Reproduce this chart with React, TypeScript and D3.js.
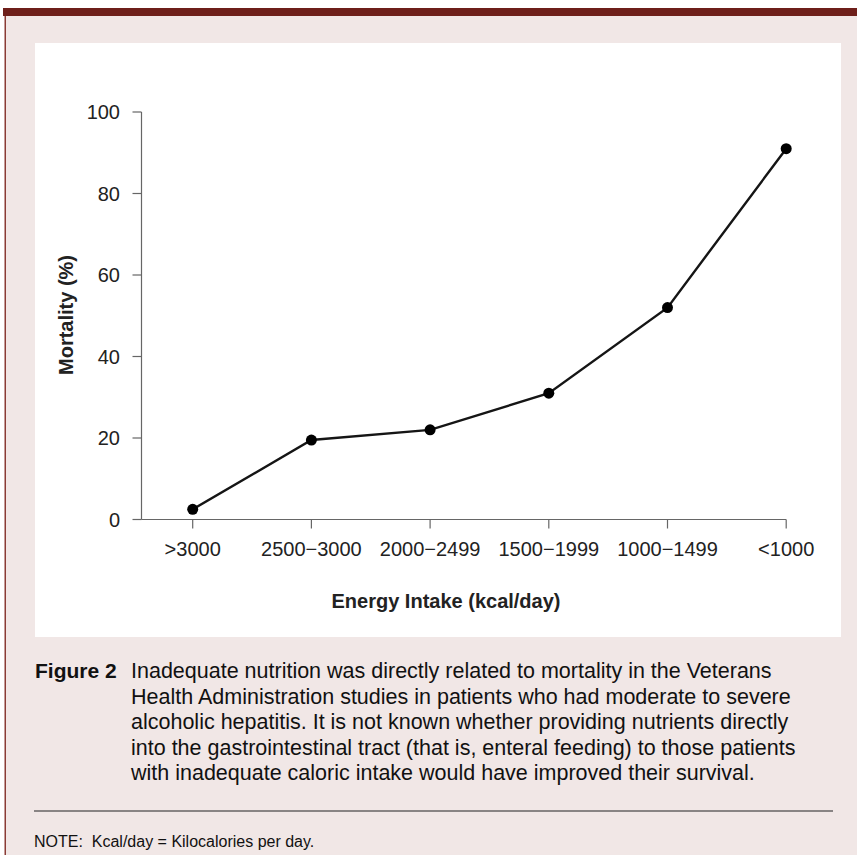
import React from "react";
import * as d3 from "d3";

// energy intake bands (kcal/day), highest intake first
const categories = [">3000", "2500\u22123000", "2000\u22122499", "1500\u22121999", "1000\u22121499", "<1000"];
// mortality (%) per band
const mortality = [2.5, 19.5, 22, 31, 52, 91];
const yTicks = [0, 20, 40, 60, 80, 100];

const captionLines = [
  "Inadequate nutrition was directly related to mortality in the Veterans",
  "Health Administration studies in patients who had moderate to severe",
  "alcoholic hepatitis. It is not known whether providing nutrients directly",
  "into the gastrointestinal tract (that is, enteral feeding) to those patients",
  "with inadequate caloric intake would have improved their survival.",
];

const W = 857;
const H = 855;
const font = "'Liberation Sans', Arial, Helvetica, sans-serif";
const narrow = "'Liberation Sans Narrow', 'Arial Narrow', 'Liberation Sans', sans-serif";
const axisColor = "#666";
const textColor = "#222";

export default function App() {
  const axisLeft = 141.5;
  const x = d3.scalePoint<string>().domain(categories).range([192.7, 786.2]);
  const y = d3.scaleLinear().domain([0, 100]).range([519.5, 112]);
  const xEnd = x(categories[categories.length - 1]) as number;

  const line = d3
    .line<number>()
    .x((_, i) => x(categories[i]) as number)
    .y((d) => y(d));

  return (
    <svg
      width={W}
      height={H}
      style={{ position: "absolute", left: 0, top: 0, display: "block" }}
    >
      <rect x={0} y={0} width={W} height={H} fill="#fff" />
      {/* frame */}
      <rect x={3} y={8} width={W - 3} height={8} fill="#6e1f1a" />
      <rect x={4.5} y={16} width={1.6} height={H - 16} fill="#8a3b35" />
      <rect x={6} y={16} width={W - 6} height={H - 16} fill="#f1e7e6" />
      <rect x={35} y={43} width={806} height={594} fill="#fff" />

      {/* y axis */}
      <line x1={axisLeft} x2={axisLeft} y1={y(100)} y2={y(0)} stroke={axisColor} strokeWidth={1.2} />
      {yTicks.map((t) => (
        <g key={t} transform={`translate(0,${y(t)})`}>
          <line x1={axisLeft - 9} x2={axisLeft} stroke={axisColor} strokeWidth={1.2} />
          <text
            x={120}
            dy="0.35em"
            textAnchor="end"
            fontFamily={font}
            fontSize={20}
            fill={textColor}
          >
            {t}
          </text>
        </g>
      ))}

      {/* x axis */}
      <line x1={axisLeft} x2={xEnd} y1={y(0)} y2={y(0)} stroke={axisColor} strokeWidth={1.2} />
      {categories.map((c) => (
        <g key={c} transform={`translate(${x(c)},${y(0)})`}>
          <line y1={0} y2={9} stroke={axisColor} strokeWidth={1.2} />
          <text
            y={36}
            textAnchor="middle"
            fontFamily={font}
            fontSize={20}
            fill={textColor}
          >
            {c}
          </text>
        </g>
      ))}

      {/* axis titles */}
      <text
        x={446}
        y={608}
        textAnchor="middle"
        fontFamily={font}
        fontSize={20}
        fontWeight="bold"
        fill={textColor}
      >
        Energy Intake (kcal/day)
      </text>
      <text
        transform={`translate(73,315) rotate(-90)`}
        textAnchor="middle"
        fontFamily={font}
        fontSize={20}
        fontWeight="bold"
        fill={textColor}
      >
        Mortality (%)
      </text>

      {/* data */}
      <path d={line(mortality) || ""} fill="none" stroke="#151515" strokeWidth={2.4} />
      {mortality.map((m, i) => (
        <circle key={i} cx={x(categories[i])} cy={y(m)} r={5.5} fill="#000" />
      ))}

      {/* caption */}
      <text x={35} y={678} fontFamily={font} fontSize={21} fontWeight="bold" fill="#111">
        Figure 2
      </text>
      {captionLines.map((l, i) => (
        <text
          key={i}
          x={131}
          y={678 + i * 25.5}
          fontFamily={narrow}
          fontSize={21.5}
          fill="#111"
        >
          {l}
        </text>
      ))}
      <line x1={34} x2={833} y1={811} y2={811} stroke="#222" strokeWidth={1.2} />
      <text x={34} y={847} fontFamily={narrow} fontSize={16} fill="#111">
        NOTE:{"\u00a0\u00a0"}Kcal/day = Kilocalories per day.
      </text>
    </svg>
  );
}
